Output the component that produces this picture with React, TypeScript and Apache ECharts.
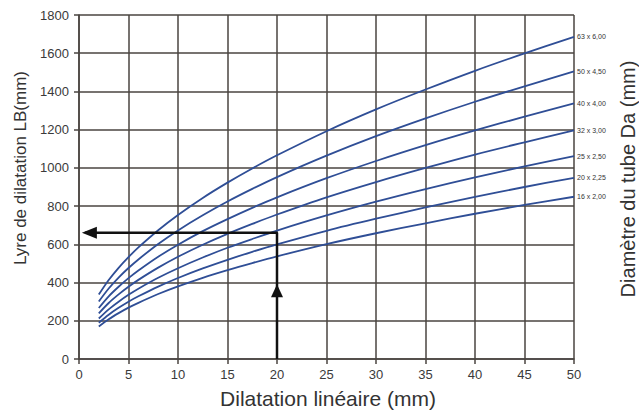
import React, { useEffect, useRef } from "react";
import * as echarts from "echarts";

const xs = [2, 3, 4, 5, 6, 8, 10, 12.5, 15, 17.5, 20, 25, 30, 35, 40, 45, 50];
const seriesNames = ["63 x 6,00", "50 x 4,50", "40 x 4,00", "32 x 3,00", "25 x 2,50", "20 x 2,25", "16 x 2,00"];
const s63 = [337, 413, 477, 533, 584, 674, 754, 843, 923, 997, 1066, 1192, 1306, 1410, 1508, 1599, 1686];
const s50 = [301, 369, 426, 476, 521, 602, 673, 752, 824, 890, 952, 1064, 1166, 1259, 1346, 1427, 1505];
const s40 = [267, 328, 378, 423, 463, 535, 598, 669, 732, 791, 846, 946, 1036, 1119, 1196, 1268, 1337];
const s32 = [239, 293, 338, 378, 414, 478, 535, 598, 655, 707, 756, 846, 926, 1000, 1070, 1134, 1196];
const s25 = [212, 260, 300, 336, 368, 425, 475, 531, 582, 628, 672, 751, 823, 889, 950, 1008, 1062];
const s20 = [190, 232, 268, 300, 328, 379, 424, 474, 519, 561, 600, 671, 734, 793, 848, 900, 948];
const s16 = [170, 208, 240, 269, 294, 340, 380, 425, 465, 502, 537, 601, 658, 710, 760, 806, 849];
const allSeries = [s63, s50, s40, s32, s25, s20, s16];

const arrowPath: number[][] = [[20, 0], [20, 660], [0.6, 660]];
const arrowHeadLeft: number[][] = [[1.05, 660]];
const arrowHeadUp: number[][] = [[20, 357]];

const xTitle = "Dilatation linéaire (mm)";
const yTitle = "Lyre de dilatation LB(mm)";
const rightTitle = "Diamètre du tube Da (mm)";

const FONT = "Liberation Sans, Arial, sans-serif";

export default function App() {
  const ref = useRef<HTMLDivElement>(null);
  useEffect(() => {
    document.body.style.margin = "0";
    const chart = echarts.init(ref.current!, null, { renderer: "svg" });
    const gridColor = "#4a4441";
    const curveSeries = allSeries.map((vals, i) => ({
      name: seriesNames[i],
      type: "line",
      data: xs.map((x, j) => [x, vals[j]]),
      smooth: 0.3,
      showSymbol: false,
      symbol: "none",
      lineStyle: { color: "#2f4e96", width: 1.8 },
      itemStyle: { color: "#2f4e96" },
      endLabel: {
        show: true,
        formatter: "{a}",
        fontSize: 7,
        color: "#333",
        fontFamily: FONT,
        distance: 3,
      },
      z: 3,
    }));
    chart.setOption({
      animation: false,
      backgroundColor: "#fff",
      grid: { left: 79, right: 65, top: 15, bottom: 51, show: false },
      xAxis: {
        type: "value",
        min: 0,
        max: 50,
        interval: 5,
        axisLine: { show: true, lineStyle: { color: gridColor, width: 1.5 } },
        axisTick: { show: true, length: 5, lineStyle: { color: gridColor, width: 1.5 } },
        axisLabel: { color: "#3a3a3a", fontSize: 13, margin: 9, fontFamily: FONT, formatter: (v: number) => String(v) },
        splitLine: { show: true, lineStyle: { color: gridColor, width: 1.5 } },
      },
      yAxis: {
        type: "value",
        min: 0,
        max: 1800,
        interval: 200,
        axisLine: { show: true, lineStyle: { color: gridColor, width: 1.5 } },
        axisTick: { show: true, length: 5, lineStyle: { color: gridColor, width: 1.5 } },
        axisLabel: { color: "#3a3a3a", fontSize: 13, margin: 10, fontFamily: FONT, formatter: (v: number) => String(v) },
        splitLine: { show: true, lineStyle: { color: gridColor, width: 1.5 } },
      },
      graphic: [
        {
          type: "text",
          x: 328,
          y: 398,
          style: { text: xTitle, fontSize: 21, fill: "#333", fontFamily: FONT, textAlign: "center", textVerticalAlign: "middle" },
        },
        {
          type: "text",
          x: 20,
          y: 168,
          rotation: Math.PI / 2,
          style: { text: yTitle, fontSize: 17, fill: "#333", fontFamily: FONT, textAlign: "center", textVerticalAlign: "middle" },
        },
        {
          type: "text",
          x: 628,
          y: 179,
          rotation: Math.PI / 2,
          style: { text: rightTitle, fontSize: 20, fill: "#333", fontFamily: FONT, textAlign: "center", textVerticalAlign: "middle" },
        },
      ],
      series: [
        ...curveSeries,
        {
          type: "line",
          data: arrowPath,
          showSymbol: false,
          symbol: "none",
          lineStyle: { color: "#111", width: 2.5 },
          z: 5,
        },
        {
          type: "scatter",
          data: arrowHeadLeft,
          symbol: "triangle",
          symbolRotate: 90,
          symbolSize: [12, 15],
          itemStyle: { color: "#111", opacity: 1 },
          z: 6,
        },
        {
          type: "scatter",
          data: arrowHeadUp,
          symbol: "triangle",
          symbolSize: [12, 13],
          itemStyle: { color: "#111", opacity: 1 },
          z: 6,
        },
      ],
    });
    return () => chart.dispose();
  }, []);
  return <div ref={ref} style={{ width: 639, height: 410 }} />;
}
